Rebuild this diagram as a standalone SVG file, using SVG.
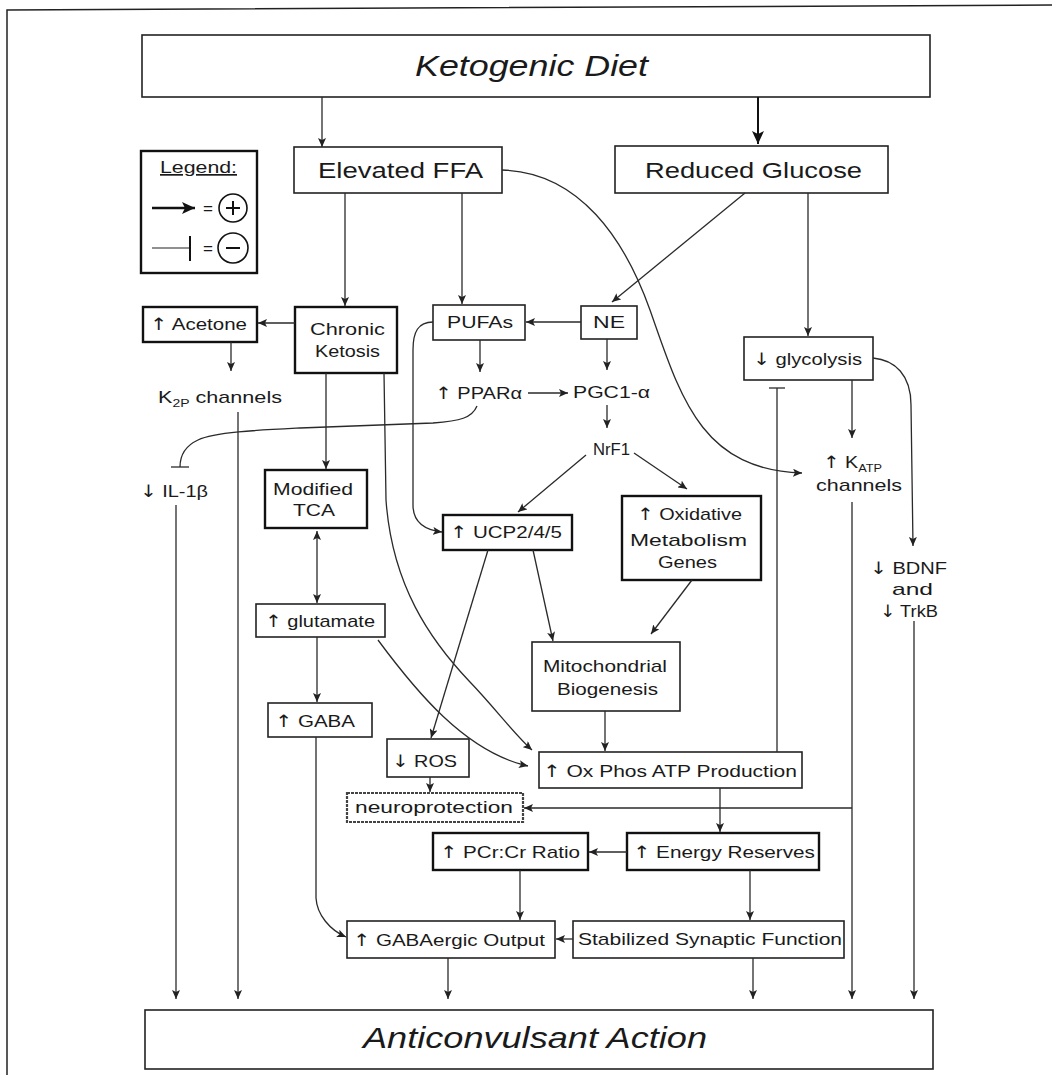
<svg xmlns="http://www.w3.org/2000/svg" width="1052" height="1075" viewBox="0 0 1052 1075">
<style>
.bx{fill:#fff;stroke:#222;stroke-width:1.6}
.bk{fill:#fff;stroke:#111;stroke-width:2.4}
.t{font-family:"Liberation Sans",Arial,sans-serif;font-size:17px;fill:#1a1a1a}
.big{font-family:"Liberation Sans",Arial,sans-serif;font-size:22px;fill:#1a1a1a}
.ttl{font-family:"Liberation Sans",Arial,sans-serif;font-size:30px;font-style:italic;fill:#1a1a1a}
.ar{font-family:"DejaVu Sans",sans-serif;fill:#1a1a1a}
.c{fill:none;stroke:#2a2a2a;stroke-width:1.3}
.a{marker-end:url(#arr)}
</style>
<defs>
<marker id="arr" markerUnits="userSpaceOnUse" markerWidth="10" markerHeight="8" refX="9" refY="4" orient="auto">
<path d="M0,0 L9,4 L0,8 L2,4 z" fill="#222"/>
</marker>
<marker id="arrs" markerUnits="userSpaceOnUse" markerWidth="10" markerHeight="8" refX="9" refY="4" orient="auto-start-reverse">
<path d="M0,0 L9,4 L0,8 L2,4 z" fill="#222"/>
</marker>
<marker id="arrB" markerUnits="userSpaceOnUse" markerWidth="14" markerHeight="12" refX="13" refY="6" orient="auto">
<path d="M0,0 L13,6 L0,12 L3,6 z" fill="#111"/>
</marker>
</defs>

<path d="M7,1075 L7,10 L1052,5" fill="none" stroke="#222" stroke-width="1.5"/>

<g id="ketogenic-diet"><rect class="bx" x="142" y="35" width="788" height="62"/><text class="ttl" x="415" y="76" textLength="233" lengthAdjust="spacingAndGlyphs">Ketogenic Diet</text></g>

<g id="legend"><rect class="bk" x="141" y="151" width="116" height="122"/>
<text class="t" x="160" y="173" font-size="15" textLength="77" lengthAdjust="spacingAndGlyphs" text-decoration="underline">Legend:</text>
<line x1="152" y1="208" x2="195" y2="208" stroke="#111" stroke-width="2.5" marker-end="url(#arrB)"/>
<text class="t" x="203" y="214" font-size="15">=</text>
<circle cx="233" cy="208" r="14" fill="none" stroke="#111" stroke-width="1.6"/>
<line x1="226" y1="208" x2="240" y2="208" stroke="#111" stroke-width="2"/>
<line x1="233" y1="201" x2="233" y2="215" stroke="#111" stroke-width="2"/>
<line x1="152" y1="248" x2="190" y2="248" stroke="#222" stroke-width="1.2"/>
<line x1="190" y1="236" x2="190" y2="261" stroke="#111" stroke-width="2"/>
<text class="t" x="203" y="254" font-size="15">=</text>
<circle cx="233" cy="248" r="15" fill="none" stroke="#111" stroke-width="1.6"/>
<line x1="226" y1="248" x2="240" y2="248" stroke="#111" stroke-width="2"/>
</g>

<g id="elevated-ffa"><rect class="bx" x="294" y="147" width="208" height="46"/><text class="big" x="318" y="178" textLength="165" lengthAdjust="spacingAndGlyphs">Elevated FFA</text></g>
<g id="reduced-glucose"><rect class="bx" x="615" y="146" width="273" height="47"/><text class="big" x="645" y="178" textLength="217" lengthAdjust="spacingAndGlyphs">Reduced Glucose</text></g>

<g id="acetone"><rect class="bk" x="143" y="307" width="114" height="35"/><text class="t" x="150" y="330" textLength="97" lengthAdjust="spacingAndGlyphs"><tspan class="ar">↑</tspan> Acetone</text></g>
<g id="chronic-ketosis"><rect class="bk" x="295" y="307" width="102" height="66"/><text class="t" x="310" y="335" textLength="75" lengthAdjust="spacingAndGlyphs">Chronic</text><text class="t" x="315" y="357" textLength="65" lengthAdjust="spacingAndGlyphs">Ketosis</text></g>
<g id="pufas"><rect class="bx" x="433" y="305" width="92" height="35"/><text class="t" x="447" y="328" textLength="66" lengthAdjust="spacingAndGlyphs">PUFAs</text></g>
<g id="ne"><rect class="bx" x="581" y="306" width="56" height="33"/><text class="t" x="593" y="328" textLength="32" lengthAdjust="spacingAndGlyphs">NE</text></g>
<g id="glycolysis"><rect class="bx" x="744" y="337" width="129" height="43"/><text class="t" x="753" y="365" textLength="109" lengthAdjust="spacingAndGlyphs"><tspan class="ar">↓</tspan> glycolysis</text></g>
<g id="k2p"><text class="t" x="158" y="403" textLength="124" lengthAdjust="spacingAndGlyphs">K<tspan font-size="11" dy="4">2P</tspan><tspan dy="-4"> channels</tspan></text></g>
<g id="ppara"><text class="t" x="435" y="399" textLength="87" lengthAdjust="spacingAndGlyphs"><tspan class="ar">↑</tspan> PPARα</text></g>
<g id="pgc1a"><text class="t" x="573" y="398" textLength="77" lengthAdjust="spacingAndGlyphs">PGC1-α</text></g>
<g id="nrf1"><text class="t" x="593" y="455" textLength="37" lengthAdjust="spacingAndGlyphs">NrF1</text></g>
<g id="katp"><text class="t" x="823" y="468" textLength="59" lengthAdjust="spacingAndGlyphs"><tspan class="ar">↑</tspan> K<tspan font-size="11" dy="4">ATP</tspan></text><text class="t" x="816" y="491" textLength="86" lengthAdjust="spacingAndGlyphs">channels</text></g>
<g id="il1b"><text class="t" x="140" y="497" textLength="68" lengthAdjust="spacingAndGlyphs"><tspan class="ar">↓</tspan> IL-1β</text></g>
<g id="modified-tca"><rect class="bk" x="265" y="470" width="102" height="58"/><text class="t" x="273" y="495" textLength="80" lengthAdjust="spacingAndGlyphs">Modified</text><text class="t" x="293" y="516" textLength="42" lengthAdjust="spacingAndGlyphs">TCA</text></g>
<g id="ucp"><rect class="bk" x="443" y="515" width="129" height="35"/><text class="t" x="450" y="538" textLength="112" lengthAdjust="spacingAndGlyphs"><tspan class="ar">↑</tspan> UCP2/4/5</text></g>
<g id="oxidative-genes"><rect class="bk" x="622" y="496" width="139" height="84"/><text class="t" x="637" y="520" textLength="105" lengthAdjust="spacingAndGlyphs"><tspan class="ar">↑</tspan> Oxidative</text><text class="t" x="630" y="546" textLength="117" lengthAdjust="spacingAndGlyphs">Metabolism</text><text class="t" x="658" y="568" textLength="59" lengthAdjust="spacingAndGlyphs">Genes</text></g>
<g id="bdnf"><text class="t" x="870" y="574" textLength="77" lengthAdjust="spacingAndGlyphs"><tspan class="ar">↓</tspan> BDNF</text><text class="t" x="892" y="595" textLength="41" lengthAdjust="spacingAndGlyphs">and</text><text class="t" x="880" y="617" textLength="58" lengthAdjust="spacingAndGlyphs"><tspan class="ar">↓</tspan> TrkB</text></g>
<g id="glutamate"><rect class="bx" x="256" y="604" width="129" height="33"/><text class="t" x="265" y="627" textLength="110" lengthAdjust="spacingAndGlyphs"><tspan class="ar">↑</tspan> glutamate</text></g>
<g id="mito"><rect class="bx" x="532" y="642" width="148" height="69"/><text class="t" x="543" y="672" textLength="124" lengthAdjust="spacingAndGlyphs">Mitochondrial</text><text class="t" x="557" y="695" textLength="101" lengthAdjust="spacingAndGlyphs">Biogenesis</text></g>
<g id="gaba"><rect class="bx" x="268" y="703" width="104" height="34"/><text class="t" x="275" y="727" textLength="80" lengthAdjust="spacingAndGlyphs"><tspan class="ar">↑</tspan> GABA</text></g>
<g id="ros"><rect class="bx" x="387" y="739" width="82" height="38"/><text class="t" x="392" y="767" textLength="65" lengthAdjust="spacingAndGlyphs"><tspan class="ar">↓</tspan> ROS</text></g>
<g id="oxphos"><rect class="bx" x="539" y="752" width="263" height="36"/><text class="t" x="543" y="777" textLength="254" lengthAdjust="spacingAndGlyphs"><tspan class="ar">↑</tspan> Ox Phos ATP Production</text></g>
<g id="neuroprotection"><rect x="347" y="793" width="176" height="29" fill="#fff" stroke="#444" stroke-width="2.2" stroke-dasharray="3 1"/><text class="t" x="355" y="813" textLength="158" lengthAdjust="spacingAndGlyphs">neuroprotection</text></g>
<g id="pcr"><rect class="bk" x="433" y="833" width="155" height="37"/><text class="t" x="440" y="858" textLength="140" lengthAdjust="spacingAndGlyphs"><tspan class="ar">↑</tspan> PCr:Cr Ratio</text></g>
<g id="energy"><rect class="bk" x="627" y="833" width="192" height="37"/><text class="t" x="633" y="858" textLength="182" lengthAdjust="spacingAndGlyphs"><tspan class="ar">↑</tspan> Energy Reserves</text></g>
<g id="gabaergic"><rect class="bx" x="347" y="921" width="208" height="37"/><text class="t" x="353" y="946" textLength="192" lengthAdjust="spacingAndGlyphs"><tspan class="ar">↑</tspan> GABAergic Output</text></g>
<g id="stabilized"><rect class="bx" x="573" y="921" width="271" height="37"/><text class="t" x="578" y="945" textLength="264" lengthAdjust="spacingAndGlyphs">Stabilized Synaptic Function</text></g>
<g id="anticonvulsant"><rect class="bx" x="145" y="1010" width="788" height="59"/><text class="ttl" x="363" y="1048" font-size="29" textLength="344" lengthAdjust="spacingAndGlyphs">Anticonvulsant Action</text></g>

<g id="connectors">
<path class="c a" d="M322,97 L322,147"/>
<path d="M758,97 L758,144" fill="none" stroke="#111" stroke-width="2" marker-end="url(#arrB)"/>
<path class="c a" d="M345,193 L345,306"/>
<path class="c a" d="M462,193 L462,304"/>
<path class="c a" d="M502,170 C580,172 625,240 650,310 C680,395 700,470 802,473"/>
<path class="c a" d="M745,193 L612,302"/>
<path class="c a" d="M808,193 L808,336"/>
<path class="c a" d="M295,323 L258,323"/>
<path class="c a" d="M231,342 L231,371"/>
<path class="c a" d="M581,322 L526,322"/>
<path class="c a" d="M480,340 L480,372"/>
<path class="c a" d="M607,339 L607,370"/>
<path class="c a" d="M528,393 L568,393"/>
<path class="c a" d="M607,405 L607,428"/>
<path class="c a" d="M586,455 L518,512"/>
<path class="c a" d="M634,453 L687,489"/>
<path class="c" d="M477,406 C472,418 460,421 433,423 L300,428 C260,430 215,432 198,440 C185,446 180,455 180,467"/>
<path class="c" d="M171,467 L189,467" stroke-width="1.8"/>
<path class="c a" d="M176,505 L176,999"/>
<path class="c a" d="M238,412 L238,999"/>
<path class="c a" d="M326,373 L326,469"/>
<path class="c a" d="M384,373 L386,500 C392,585 430,640 470,682 C495,708 515,735 532,750"/>
<path class="c" d="M317,531 L317,603" marker-start="url(#arrs)" marker-end="url(#arrs)"/>
<path class="c a" d="M317,637 L317,702"/>
<path class="c a" d="M378,640 C415,690 465,752 528,766"/>
<path class="c a" d="M316,737 L316,898 C317,915 330,930 346,937"/>
<path class="c a" d="M433,322 C418,322 413,332 413,350 L413,505 C413,522 425,530 442,532"/>
<path class="c a" d="M488,550 L431,738"/>
<path class="c a" d="M533,550 L553,641"/>
<path class="c a" d="M692,580 L651,634"/>
<path class="c a" d="M605,711 L605,751"/>
<path class="c" d="M777,752 L777,388"/>
<path class="c" d="M769,388 L785,388" stroke-width="1.8"/>
<path class="c a" d="M430,777 L430,792"/>
<path class="c a" d="M852,808 L524,808"/>
<path class="c a" d="M720,788 L720,832"/>
<path class="c a" d="M627,852 L589,852"/>
<path class="c a" d="M520,870 L520,920"/>
<path class="c a" d="M750,870 L750,920"/>
<path class="c a" d="M573,939 L556,939"/>
<path class="c a" d="M448,958 L448,999"/>
<path class="c a" d="M753,958 L753,999"/>
<path class="c a" d="M852,380 L852,438"/>
<path class="c a" d="M852,502 L852,999"/>
<path class="c a" d="M873,358 C895,360 911,375 911,405 L913,546"/>
<path class="c a" d="M914,621 L914,999"/>
</g>
</svg>
